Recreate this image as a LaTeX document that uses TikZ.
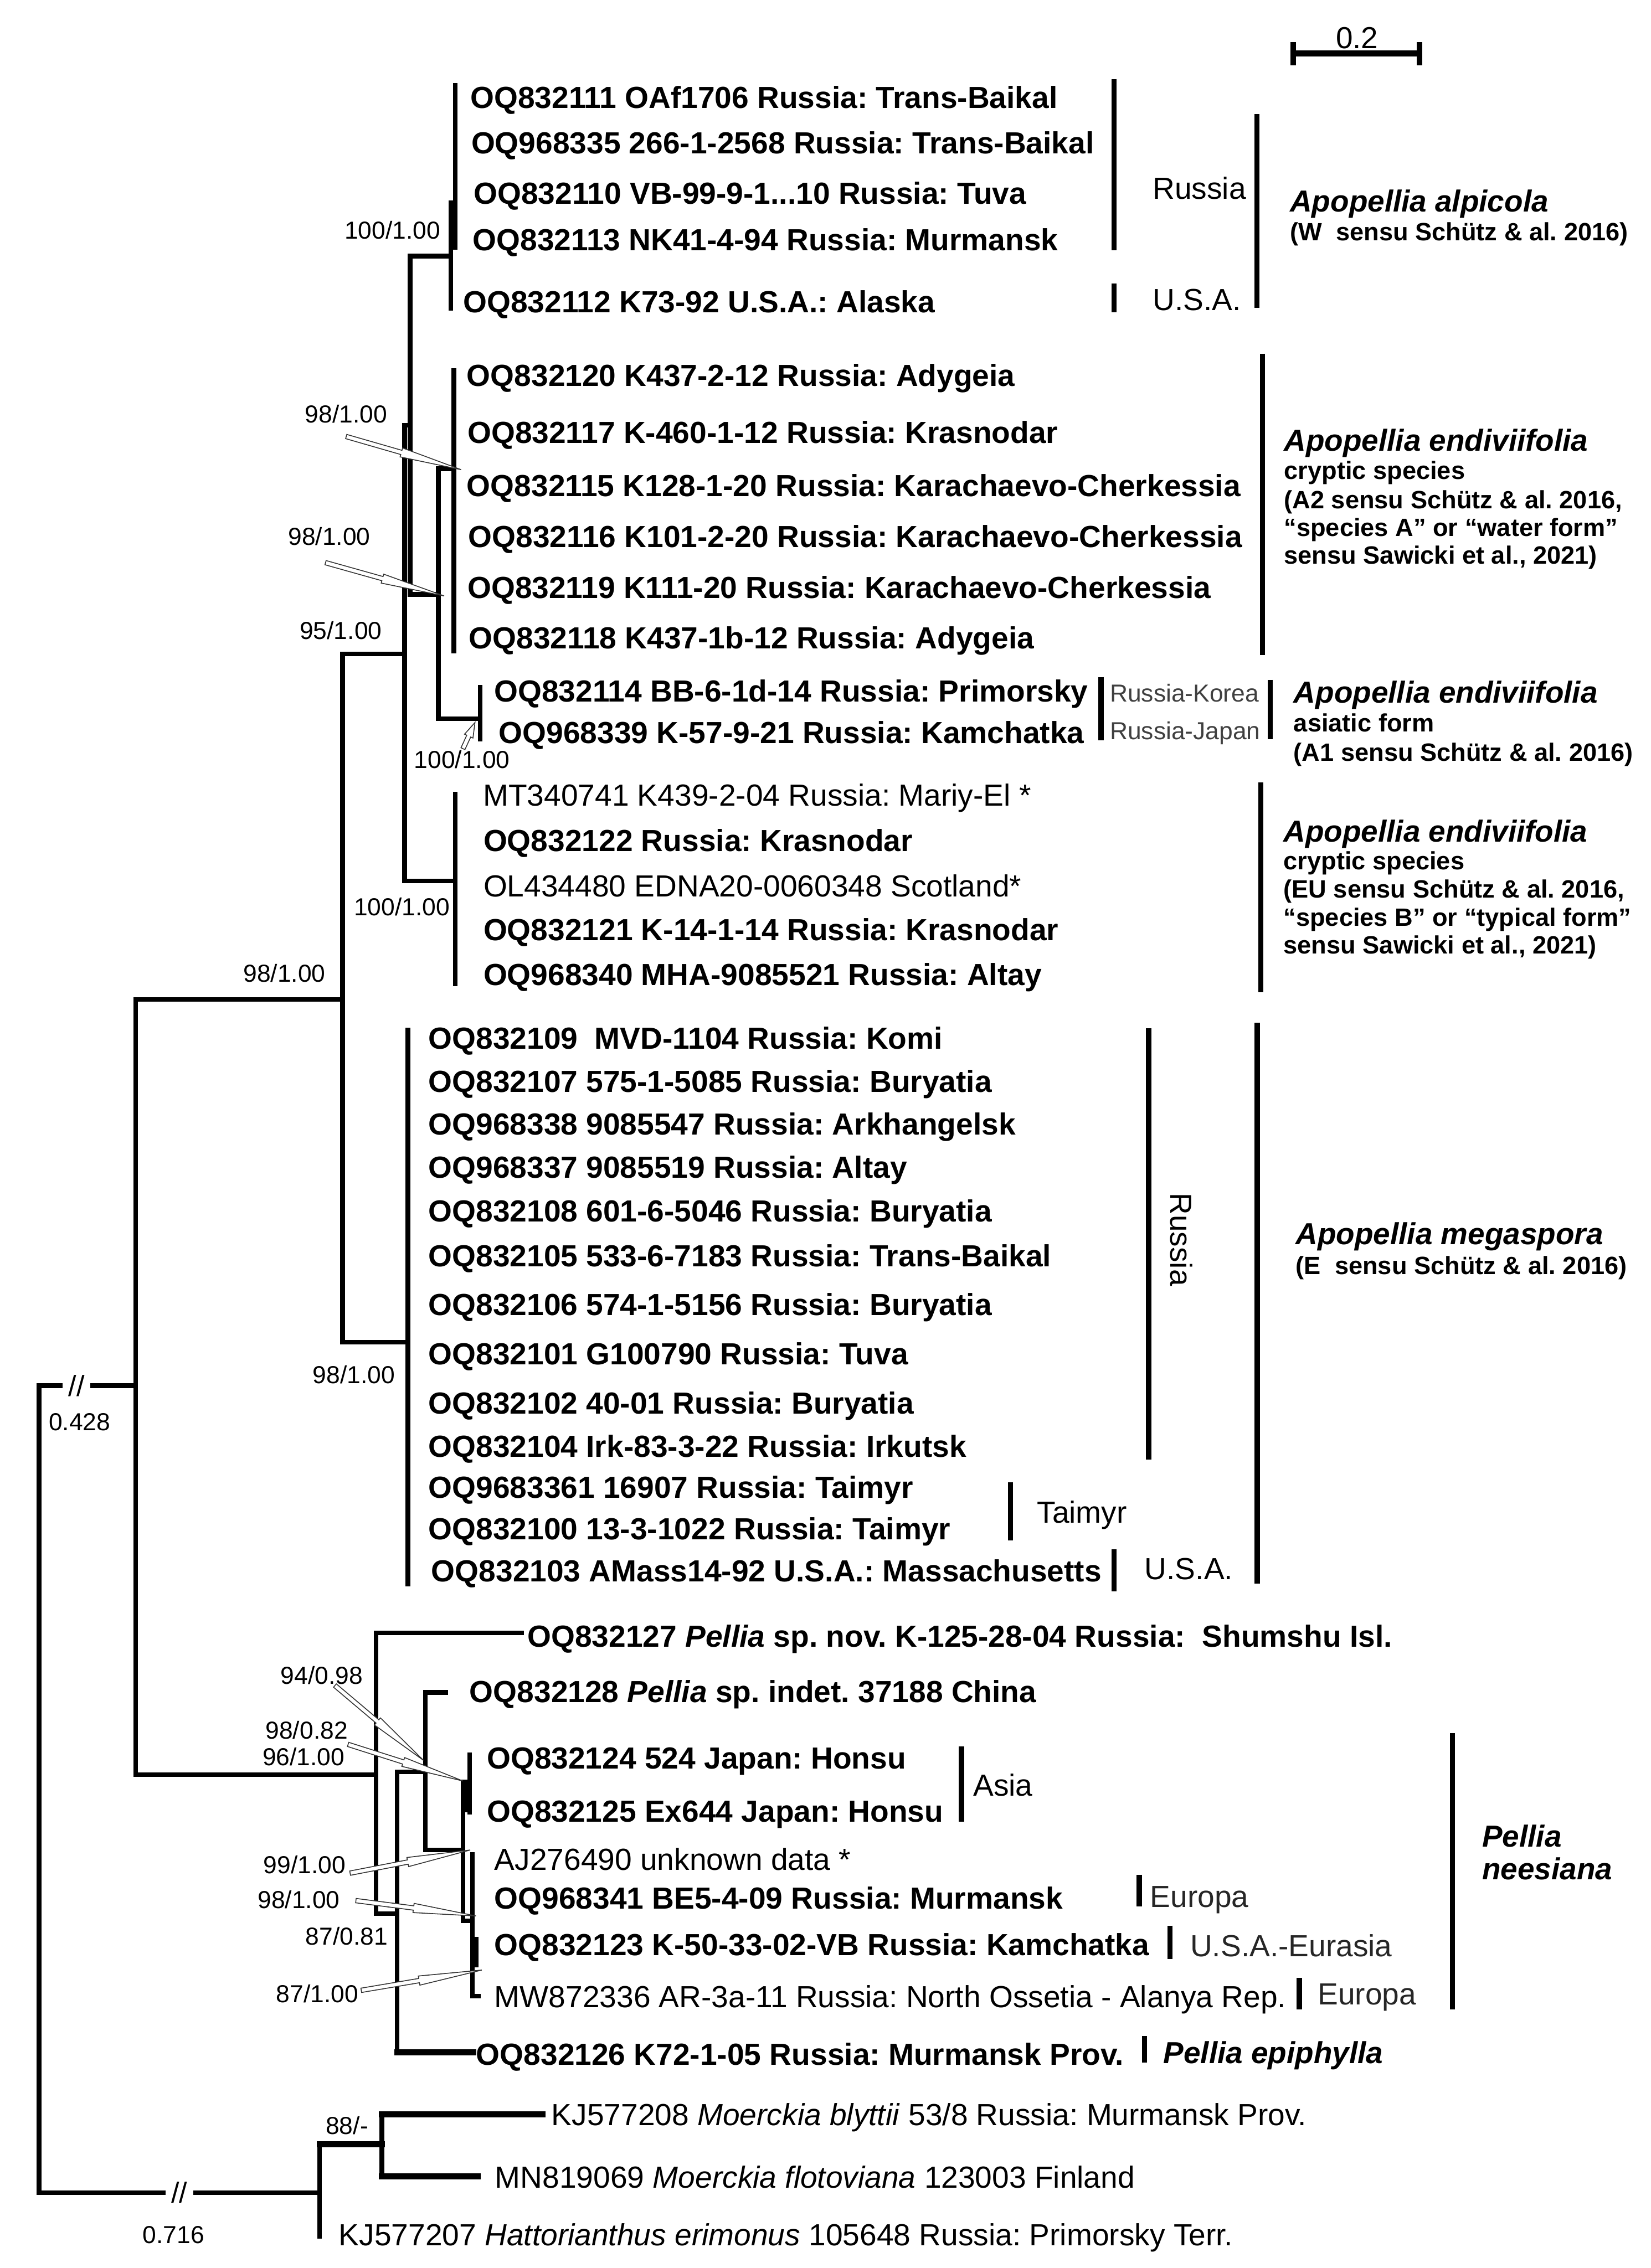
\documentclass[tikz,border=0pt]{standalone}
\usepackage{fontspec}
\setmainfont{Liberation Sans}
\usetikzlibrary{calc}
\frenchspacing

% thin hollow arrow from a support value to its node
\newcommand{\suparrow}[2]{%
  \coordinate (#1m) at ($(#1)!0.48!(#2)$);
  \draw[supline] ($(#1)!1.5pt!90:(#2)$) -- ($(#1m)!1.5pt!90:(#2)$)
    -- ($(#1m)!3.2pt!90:(#2)$) -- (#2) -- ($(#1m)!3.2pt!-90:(#2)$)
    -- ($(#1m)!1.5pt!-90:(#2)$) -- ($(#1)!1.5pt!-90:(#2)$) -- cycle;}

\begin{document}
\begin{tikzpicture}[
  x=1pt, y=-1pt,
  branch/.style={line width=3.2pt, line cap=rect},
  heavy/.style={line width=4.2pt, line cap=rect},
  clbar/.style={line width=3.6pt},
  leaf/.style={anchor=base west, inner sep=0pt, yshift=-7.5pt,
    font=\fontsize{21.1}{25}\selectfont\bfseries},
  leafn/.style={leaf, font=\fontsize{21.1}{25}\selectfont},
  supp/.style={anchor=base west, inner sep=0pt, yshift=-6.1pt,
    font=\fontsize{17}{20}\selectfont},
  taxon/.style={leaf, font=\fontsize{21}{25}\selectfont\bfseries\itshape},
  sensu/.style={anchor=base west, inner sep=0pt, yshift=-6.2pt,
    font=\fontsize{17.3}{20}\selectfont\bfseries},
  region/.style={leafn},
  regsmall/.style={supp, text=black!75},
  brk/.style={fill=white, inner xsep=4pt, inner ysep=0pt,
    font=\fontsize{20}{20}\selectfont},
  supline/.style={draw=black!80, line width=0.6pt, fill=white, line join=miter}
]
\useasboundingbox[fill=white] (0,0) rectangle (1141,1568);

% --- Scale bar --------------------------------------------------------
\node[anchor=base, inner sep=0pt, font=\fontsize{21}{25}\selectfont] (scale) at (938,33.5) {0.2};
\draw[line width=4pt] (894,37) -- (981,37);
\draw[line width=3.8pt] (894,29) -- (894,45) (981,29) -- (981,45);

% --- Backbone ---------------------------------------------------------
\draw[branch] (27,958) -- (27,1516);
\draw[branch] (27,958) -- (93.7,958);
\node[brk] (cut1) at (53,958) {//};
\node[supp, anchor=base] (v428) at (55,983) {0.428};
\draw[branch] (93.7,691) -- (93.7,1227);
\draw[branch] (93.7,691) -- (236.7,691);
\draw[branch] (236.7,452) -- (236.7,928);
\draw[branch] (236.7,452) -- (279.6,452);
\draw[branch] (236.7,928) -- (282,928);
\draw[branch] (279.6,294) -- (279.6,609) (279.6,294) -- (283.5,294);
\draw[branch] (283.5,177) -- (283.5,411);

% Apopellia alpicola
\draw[branch] (283.5,177) -- (311.7,177);
\draw[branch] (311.7,140) -- (311.7,213);
\draw[branch] (314.7,59) -- (314.7,171);

% A2 and A1
\draw[branch] (283.5,411) -- (303,411);
\draw[branch] (303,324) -- (303,497);
\draw[branch] (303,324) -- (313.7,324);
\draw[branch] (313.7,256) -- (313.7,450);
\draw[branch] (303,497) -- (332,497);
\draw[branch] (332,475) -- (332,511);

% EU
\draw[branch] (279.6,609) -- (314.7,609);
\draw[branch] (314.7,549) -- (314.7,680);

% Apopellia megaspora
\draw[branch] (282,712) -- (282,1095);

% Pellia
\draw[branch] (93.7,1227) -- (260,1227);
\draw[branch] (260,1129) -- (260,1323);
\draw[branch] (260,1129) -- (360.4,1129);
\draw[branch] (260,1323) -- (274.5,1323);
\draw[branch] (274.5,1225) -- (274.5,1419);
\draw[heavy] (274.5,1419) -- (327,1419);
\draw[branch] (274.5,1225) -- (294,1225);
\draw[branch] (294,1170) -- (294,1279);
\draw[branch] (294,1170) -- (308,1170);
\draw[branch] (294,1279) -- (320,1279);
\draw[branch] (320,1232) -- (320,1328);
\draw[branch] (320,1232) -- (324.7,1232);
\draw[branch] (324.7,1213) -- (324.7,1253);
\draw[line width=4pt] (322.5,1232) -- (322.5,1253);
\draw[branch] (320,1328) -- (326.5,1328);
\draw[branch] (326.5,1282) -- (326.5,1380);
\draw[line width=3.5pt] (329,1339) -- (329,1360);
\draw[branch] (326.5,1380) -- (330.5,1380);

% outgroup
\draw[branch] (27,1516) -- (221,1516);
\node[brk] (cut2) at (124,1516) {//};
\node[supp, anchor=base] (v716) at (120,1545) {0.716};
\draw[branch] (221,1482.6) -- (221,1546);
\draw[heavy] (221,1482.6) -- (264,1482.6);
\draw[branch] (264,1461.6) -- (264,1505);
\draw[heavy] (264,1461.6) -- (375,1461.6);
\draw[heavy] (264,1504.6) -- (330,1504.6);

% --- Support values ---------------------------------------------------
\node[supp] (s1) at (238,159) {100/1.00};
\node[supp] (s2) at (210.7,286) {98/1.00};
\node[supp] (s3) at (199,370.7) {98/1.00};
\node[supp] (s4) at (207,436) {95/1.00};
\node[supp] (s5) at (286,525) {100/1.00};
\node[supp] (s6) at (244.5,627) {100/1.00};
\node[supp] (s7) at (168,673) {98/1.00};
\node[supp] (s8) at (216,950.5) {98/1.00};
\node[supp] (s10) at (193.8,1158.3) {94/0.98};
\node[supp] (s11) at (183.4,1196.2) {98/0.82};
\node[supp] (s12) at (181.3,1214.3) {96/1.00};
\node[supp] (s13) at (182,1289.3) {99/1.00};
\node[supp] (s14) at (178,1313.3) {98/1.00};
\node[supp] (s15) at (211,1338.4) {87/0.81};
\node[supp] (s16) at (190.7,1378.4) {87/1.00};
\node[supp] (s17) at (225,1469.5) {88/-};

\coordinate (t2) at (239.3,301.8);  \coordinate (h2) at (318.7,324.7);
\coordinate (t3) at (225,389);      \coordinate (h3) at (307,412);
\coordinate (t5) at (320,517.6);    \coordinate (h5) at (328.3,499.5);
\coordinate (t10) at (231.5,1165.3); \coordinate (h10) at (292.7,1217);
\coordinate (t11) at (240.6,1206);  \coordinate (h11) at (320,1231.3);
\coordinate (t13) at (242,1295);    \coordinate (h13) at (325,1279);
\coordinate (t14) at (246,1314);    \coordinate (h14) at (329,1324.6);
\coordinate (t16) at (249.7,1376);  \coordinate (h16) at (333,1362);
\suparrow{t2}{h2}
\suparrow{t3}{h3}
\suparrow{t5}{h5}
\suparrow{t10}{h10}
\suparrow{t11}{h11}
\suparrow{t13}{h13}
\suparrow{t14}{h14}
\suparrow{t16}{h16}

% --- Leaves -----------------------------------------------------------
\node[leaf] (a1) at (325,67.4) {OQ832111 OAf1706 Russia: Trans-Baikal};
\node[leaf] (a2) at (325.6,98.6) {OQ968335 266-1-2568 Russia: Trans-Baikal};
\node[leaf] (a3) at (327.3,133.4) {OQ832110 VB-99-9-1...10 Russia: Tuva};
\node[leaf] (a4) at (326.6,165.8) {OQ832113 NK41-4-94 Russia: Murmansk};
\node[leaf] (a5) at (320,208.6) {OQ832112 K73-92 U.S.A.: Alaska};

\node[leaf] (b1) at (322.5,259.5) {OQ832120 K437-2-12 Russia: Adygeia};
\node[leaf] (b2) at (323,299) {OQ832117 K-460-1-12 Russia: Krasnodar};
\node[leaf] (b3) at (322.5,335.8) {OQ832115 K128-1-20 Russia: Karachaevo-Cherkessia};
\node[leaf] (b4) at (323.6,371) {OQ832116 K101-2-20 Russia: Karachaevo-Cherkessia};
\node[leaf] (b5) at (323,406) {OQ832119 K111-20 Russia: Karachaevo-Cherkessia};
\node[leaf] (b6) at (324,441) {OQ832118 K437-1b-12 Russia: Adygeia};

\node[leaf] (c1) at (341.4,477.7) {OQ832114 BB-6-1d-14 Russia: Primorsky};
\node[leaf] (c2) at (344.6,506.5) {OQ968339 K-57-9-21 Russia: Kamchatka};

\node[leafn] (d1) at (333.7,549.7) {MT340741 K439-2-04 Russia: Mariy-El *};
\node[leaf] (d2) at (334,581) {OQ832122 Russia: Krasnodar};
\node[leafn] (d3) at (334,612.4) {OL434480 EDNA20-0060348 Scotland*};
\node[leaf] (d4) at (334,642.6) {OQ832121 K-14-1-14 Russia: Krasnodar};
\node[leaf] (d5) at (334,673.8) {OQ968340 MHA-9085521 Russia: Altay};

\node[leaf] (m1) at (296,717.6) {OQ832109\ \ MVD-1104 Russia: Komi};
\node[leaf] (m2) at (296,747.5) {OQ832107 575-1-5085 Russia: Buryatia};
\node[leaf] (m3) at (296,777) {OQ968338 9085547 Russia: Arkhangelsk};
\node[leaf] (m4) at (296,807) {OQ968337 9085519 Russia: Altay};
\node[leaf] (m5) at (296,837) {OQ832108 601-6-5046 Russia: Buryatia};
\node[leaf] (m6) at (296,868) {OQ832105 533-6-7183 Russia: Trans-Baikal};
\node[leaf] (m7) at (296,902) {OQ832106 574-1-5156 Russia: Buryatia};
\node[leaf] (m8) at (296,936) {OQ832101 G100790 Russia: Tuva};
\node[leaf] (m9) at (296,970) {OQ832102 40-01 Russia: Buryatia};
\node[leaf] (m10) at (296,1000) {OQ832104 Irk-83-3-22 Russia: Irkutsk};
\node[leaf] (m11) at (296,1028) {OQ9683361 16907 Russia: Taimyr};
\node[leaf] (m12) at (296,1057) {OQ832100 13-3-1022 Russia: Taimyr};
\node[leaf] (m13) at (298,1086) {OQ832103 AMass14-92 U.S.A.: Massachusetts};

\node[leaf] (p1) at (364.4,1131) {OQ832127 \textit{Pellia} sp. nov. K-125-28-04 Russia:\ \ Shumshu Isl.};
\node[leaf] (p2) at (324.4,1169.3) {OQ832128 \textit{Pellia} sp. indet. 37188 China};
\node[leaf] (p3) at (336.4,1215.3) {OQ832124 524 Japan: Honsu};
\node[leaf] (p4) at (336.4,1252.3) {OQ832125 Ex644 Japan: Honsu};
\node[leafn] (p5) at (341.6,1285.3) {AJ276490 unknown data *};
\node[leaf] (p6) at (341.6,1312.4) {OQ968341 BE5-4-09 Russia: Murmansk};
\node[leaf] (p7) at (341.6,1344.3) {OQ832123 K-50-33-02-VB Russia: Kamchatka};
\node[leafn] (p8) at (341.6,1380.3) {MW872336 AR-3a-11 Russia: North Ossetia - Alanya Rep.};
\node[leaf] (p9) at (329,1420) {OQ832126 K72-1-05 Russia: Murmansk Prov.};

\node[leafn] (o1) at (381,1462) {KJ577208 \textit{Moerckia blyttii} 53/8 Russia: Murmansk Prov.};
\node[leafn] (o2) at (342,1505) {MN819069 \textit{Moerckia flotoviana} 123003 Finland};
\node[leafn] (o3) at (234,1545) {KJ577207 \textit{Hattorianthus erimonus} 105648 Russia: Primorsky Terr.};

% --- Regions and species ---------------------------------------------
\draw[clbar] (770,54.6) -- (770,173) (770,196) -- (770,216);
\node[region] (rusA) at (796.5,130) {Russia};
\node[region] (usaA) at (796.5,207) {U.S.A.};
\draw[clbar] (868.7,79) -- (868.7,213);
\node[taxon] (alp) at (891.5,139) {Apopellia alpicola};
\node[sensu] (alpS) at (891.5,160) {(W\ \ sensu Schütz \& al. 2016)};

\draw[clbar] (872.6,244.5) -- (872.6,453);
\node[taxon] (endA2) at (887.4,304.4) {Apopellia endiviifolia};
\node[sensu] (endA2a) at (887.4,325) {cryptic species};
\node[sensu] (endA2b) at (887.4,345.5) {(A2 sensu Schütz \& al. 2016,};
\node[sensu] (endA2c) at (887.4,364.5) {“species A” or “water form”};
\node[sensu] (endA2d) at (887.4,383.6) {sensu Sawicki et al., 2021)};

\draw[clbar] (761,468) -- (761,512);
\node[regsmall] (rk) at (767,479) {Russia-Korea};
\node[regsmall] (rj) at (767,505) {Russia-Japan};
\draw[clbar] (878,470) -- (878,511);
\node[taxon] (endA1) at (894,478.5) {Apopellia endiviifolia};
\node[sensu] (endA1a) at (894,499.5) {asiatic form};
\node[sensu] (endA1b) at (894,520) {(A1 sensu Schütz \& al. 2016)};

\draw[clbar] (871.5,541) -- (871.5,686);
\node[taxon] (endEU) at (887,574.5) {Apopellia endiviifolia};
\node[sensu] (endEUa) at (887,595) {cryptic species};
\node[sensu] (endEUb) at (887,614.5) {(EU sensu Schütz \& al. 2016,};
\node[sensu] (endEUc) at (887,634) {“species B” or “typical form”};
\node[sensu] (endEUd) at (887,653) {sensu Sawicki et al., 2021)};

\draw[clbar] (794,711) -- (794,1009);
\node[font=\fontsize{21}{25}\selectfont, rotate=-90, inner sep=0pt] (rusM) at (816.6,857) {Russia};
\draw[clbar] (698.5,1024.6) -- (698.5,1065);
\node[region] (taim) at (716.6,1045.5) {Taimyr};
\draw[clbar] (770,1071) -- (770,1100);
\node[region] (usaM) at (791,1084.6) {U.S.A.};
\draw[clbar] (869,707) -- (869,1095);
\node[taxon] (meg) at (895.5,853) {Apopellia megaspora};
\node[sensu] (megS) at (895.5,875) {(E\ \ sensu Schütz \& al. 2016)};

\draw[clbar] (664.6,1207.3) -- (664.6,1259.3);
\node[region] (asia) at (672.5,1234) {Asia};
\draw[clbar] (787.5,1296) -- (787.5,1318);
\node[region, text=black!85] (eur1) at (794.8,1311) {Europa};
\draw[clbar] (808.6,1331.3) -- (808.6,1354.3);
\node[region, text=black!85] (usaE) at (822.5,1345) {U.S.A.-Eurasia};
\draw[clbar] (898,1367.4) -- (898,1389.4);
\node[region, text=black!85] (eur2) at (910.6,1378.4) {Europa};
\draw[clbar] (1003.8,1198.3) -- (1003.8,1389.4);
\node[taxon] (nees1) at (1024.3,1269.2) {Pellia};
\node[taxon] (nees2) at (1024.3,1292) {neesiana};
\draw[clbar] (791,1407.5) -- (791,1426);
\node[taxon] (epi) at (804,1419) {Pellia epiphylla};

\end{tikzpicture}
\end{document}
